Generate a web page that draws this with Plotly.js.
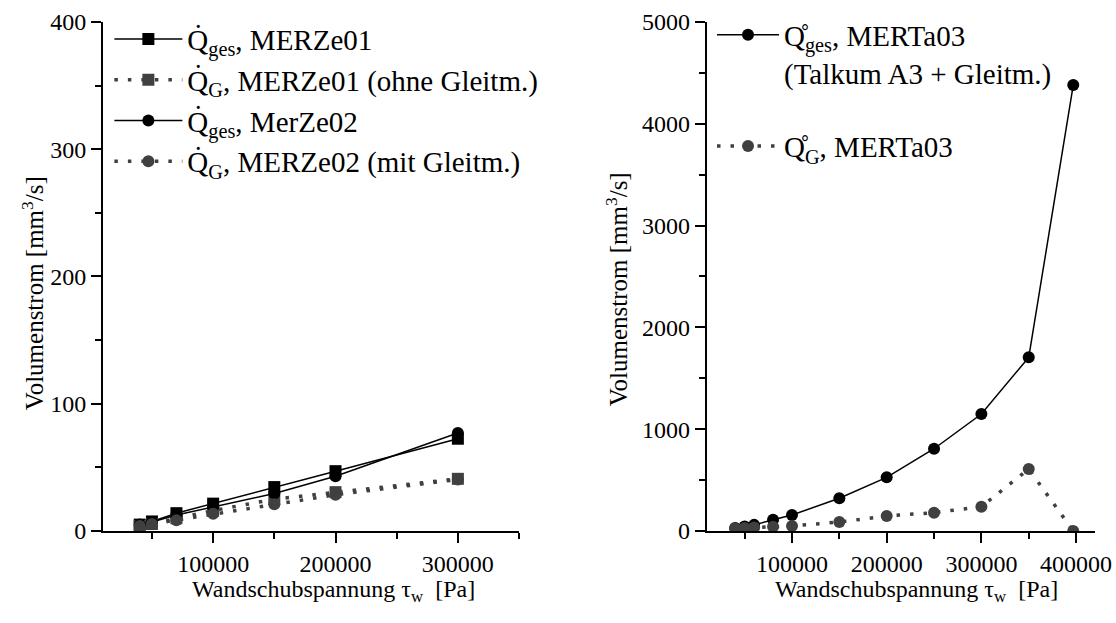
<!DOCTYPE html>
<html>
<head>
<meta charset="utf-8">
<script src="https://cdn.plot.ly/plotly-3.0.1.min.js"></script>
<style>
  html, body { margin: 0; padding: 0; background: #fff; font-family: 'Liberation Serif', serif; }
  #chart { width: 1116px; height: 623px; }
</style>
</head>
<body>
<div id="chart"></div>
<script>
// Wall shear stress [Pa] for the MERZe series (left panel)
const tauZe = [40000, 50000, 70000, 100000, 150000, 200000, 300000];
const qGesZe01 = [5, 7.5, 14, 21.5, 34.5, 47, 72.5];
const qGZe01   = [4, 5.5, 10, 16, 25, 30.5, 41];
const qGesZe02 = [5, 7, 12.5, 19, 29.5, 43, 77];
const qGZe02   = [4, 5.5, 8.5, 13.5, 21, 28.5, 40.5];

// Wall shear stress [Pa] for MERTa03 (right panel)
const tauTa = [40000, 50000, 60000, 80000, 100000, 150000, 200000, 250000, 300000, 350000, 397000];
const qGesTa03 = [30, 45, 60, 110, 157, 321, 527, 808, 1149, 1706, 4380];
const qGTa03   = [25, 30, 35, 42, 50, 88, 147, 180, 239, 609, 0];

const nameGesZe01 = 'Q\u0307<sub>ges</sub>, MERZe01';
const nameGZe01   = 'Q\u0307<sub>G</sub>, MERZe01 (ohne Gleitm.)';
const nameGesZe02 = 'Q\u0307<sub>ges</sub>, MerZe02';
const nameGZe02   = 'Q\u0307<sub>G</sub>, MERZe02 (mit Gleitm.)';
const nameGesTa03 = 'Q\u030A<sub>ges</sub>, MERTa03<br>(Talkum A3 + Gleitm.)';
const nameGTa03   = 'Q\u030A<sub>G</sub>, MERTa03';

const xLabel = 'Wandschubspannung \u03C4<sub>w</sub>\u00A0\u00A0[Pa]';
const yLabel = 'Volumenstrom [mm<sup>3</sup>/s]';

const FONT = 'Liberation Serif';
const BLACK = '#000000';
const GREY = '#404040';

function series(x, y, name, color, symbol, dotted, xa, ya, legend, group) {
  return {
    x: x, y: y, name: name, type: 'scatter', mode: 'lines+markers',
    xaxis: xa, yaxis: ya, legend: legend, legendgroup: group,
    line: dotted ? { color: color, width: 3.5, dash: '3.5px,10px' }
                 : { color: color, width: 1.5, dash: 'solid' },
    marker: { color: color, symbol: symbol, size: 12 }
  };
}

const traces = [
  series(tauZe, qGesZe01, nameGesZe01, BLACK, 'square', false, 'x', 'y', 'legend', 'a'),
  series(tauZe, qGZe01,   nameGZe01,   GREY,  'square', true,  'x', 'y', 'legend', 'b'),
  series(tauZe, qGesZe02, nameGesZe02, BLACK, 'circle', false, 'x', 'y', 'legend', 'c'),
  series(tauZe, qGZe02,   nameGZe02,   GREY,  'circle', true,  'x', 'y', 'legend', 'd'),
  series(tauTa, qGesTa03, nameGesTa03, BLACK, 'circle', false, 'x2', 'y2', 'legend2', 'e'),
  series(tauTa, qGTa03,   nameGTa03,   GREY,  'circle', true,  'x2', 'y2', 'legend2', 'f')
];

function axis(extra) {
  return Object.assign({
    showline: true, linecolor: BLACK, linewidth: 2,
    ticks: 'outside', ticklen: 10, tickwidth: 2, tickcolor: BLACK,
    showgrid: false, zeroline: false, automargin: false,
    tickfont: { family: FONT, size: 24, color: BLACK },
    tickformat: 'd'
  }, extra);
}

const minorX = { tickvals: [50000, 150000, 250000, 350000], ticks: 'outside', ticklen: 6, tickwidth: 2, tickcolor: BLACK };

function axisTitle(text, x, y, angle) {
  return {
    text: text, xref: 'paper', yref: 'paper', x: x, y: y,
    xanchor: 'center', yanchor: 'middle', textangle: angle, showarrow: false,
    font: { family: FONT, size: angle ? 25 : 24, color: BLACK }
  };
}

const layout = {
  width: 1116, height: 623,
  margin: { l: 0, r: 0, t: 0, b: 0 },
  paper_bgcolor: '#ffffff', plot_bgcolor: '#ffffff',
  font: { family: FONT, size: 24, color: BLACK },
  xaxis: axis({
    domain: [0.0923, 0.4651], range: [10000, 350000], anchor: 'y',
    tickvals: [100000, 200000, 300000], minor: minorX
  }),
  yaxis: axis({
    domain: [0.1477, 0.9647], range: [0, 400], anchor: 'x',
    dtick: 100,
    minor: { dtick: 50, ticks: 'outside', ticklen: 6, tickwidth: 2, tickcolor: BLACK }
  }),
  xaxis2: axis({
    domain: [0.6333, 0.9812], range: [10000, 420000], anchor: 'y2',
    tickvals: [100000, 200000, 300000, 400000], minor: minorX
  }),
  yaxis2: axis({
    domain: [0.1477, 0.9647], range: [0, 5000], anchor: 'x2',
    dtick: 1000,
    minor: { dtick: 500, ticks: 'outside', ticklen: 6, tickwidth: 2, tickcolor: BLACK }
  }),
  annotations: [
    axisTitle(xLabel, 0.2985, 0.051, 0),
    axisTitle(xLabel, 0.8215, 0.051, 0),
    axisTitle(yLabel, 0.029, 0.53, -90),
    axisTitle(yLabel, 0.5525, 0.535, -90)
  ],
  legend: {
    x: 0.098, y: 0.978, xanchor: 'left', yanchor: 'top',
    bgcolor: 'rgba(0,0,0,0)', borderwidth: 0,
    font: { family: FONT, size: 29, color: BLACK },
    tracegroupgap: 0, itemwidth: 68
  },
  legend2: {
    x: 0.638, y: 0.985, xanchor: 'left', yanchor: 'top',
    bgcolor: 'rgba(0,0,0,0)', borderwidth: 0,
    font: { family: FONT, size: 29, color: BLACK },
    tracegroupgap: 33, itemwidth: 62, valign: 'top'
  },
  showlegend: true
};

function draw() {
  Plotly.newPlot('chart', traces, layout, { displayModeBar: false });
}

// make sure the serif face is ready before Plotly measures its labels
if (document.fonts && document.fonts.load) {
  document.fonts.load('24px "Liberation Serif"').then(draw, draw);
} else {
  draw();
}
</script>
</body>
</html>
